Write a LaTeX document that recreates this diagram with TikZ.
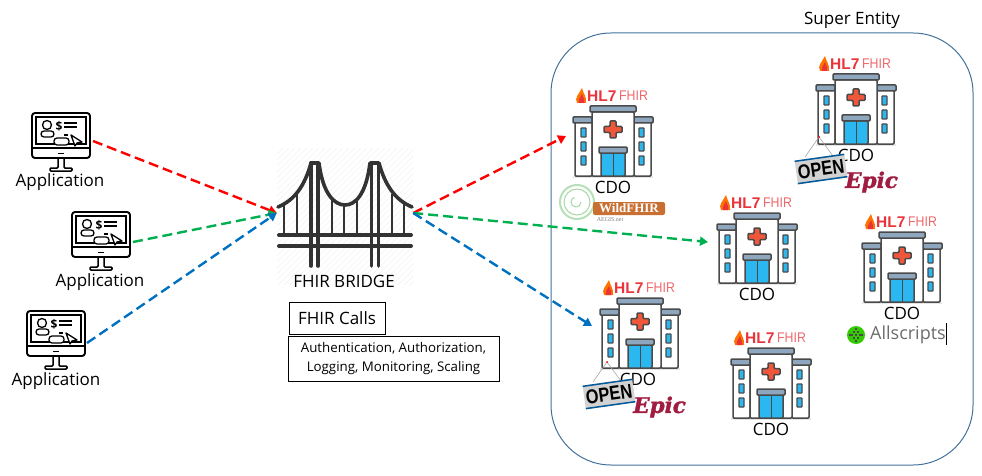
\documentclass[tikz,border=0pt]{standalone}
\usepackage{fontspec}
\setmainfont{Open Sans}
\newfontfamily\arialf{Liberation Sans}
\newfontfamily\timesf{Liberation Serif}
\newfontfamily\dejaf[FakeBold=1.6]{DejaVu Serif}
\usetikzlibrary{arrows.meta}
\definecolor{rouge}{HTML}{FF0000}
\definecolor{vert}{HTML}{00B050}
\definecolor{bleu}{HTML}{0070C0}
\definecolor{cadre}{HTML}{41719C}
\definecolor{sombre}{HTML}{4A4A4A}
\definecolor{toit}{HTML}{8FA6BF}
\definecolor{vitre}{HTML}{2BB8F0}
\definecolor{croix}{HTML}{F0573A}
\definecolor{hlrouge}{HTML}{E8343A}
\definecolor{epic}{HTML}{A01C40}
\definecolor{wild}{HTML}{C96F32}
\definecolor{pont}{HTML}{333333}
\newcommand{\tailleA}{\fontsize{17}{20}\selectfont}
\newcommand{\tailleB}{\fontsize{13.3}{19.5}\selectfont}
\tikzset{
titre/.style={inner sep=0pt,font=\tailleA},
boite/.style={draw,thick,inner sep=0pt,align=center},
bati/.style={draw=sombre,line width=1.5pt,rounded corners=1pt},
ecran/.pic={
  \draw[line width=1.9pt,rounded corners=3pt] (0,0) rectangle (58,45);
  \draw[line width=1.6pt] (0,35) -- (58,35);
  \draw[line width=1.3pt] (4,4) rectangle (54,31);
  \draw[line width=1.4pt] (26,40.5) -- (32,40.5);
  \draw[line width=1.5pt,rounded corners=1pt] (26,45) -- (26,55) -- (18,55) -- (18,58) -- (40,58) -- (40,55) -- (32,55) -- (32,45);
  \draw[line width=1.3pt] (15,12) circle (4.5);
  \draw[line width=1.3pt,rounded corners=3pt] (9,24) -- (9,18) -- (22,18) -- (22,24) -- cycle;
  \node[inner sep=0pt,font=\bfseries\fontsize{12}{12}\selectfont] (-dollar) at (27,13) {\$};
  \draw[line width=1.3pt] (32,10) -- (45,10) (32,14) -- (45,14) (32,22) -- (36,22);
  \draw[line width=1.3pt,fill=white,rounded corners=3pt] (22,25) rectangle (37,32);
  \draw[line width=1.3pt,fill=white,line join=round] (39,22) -- (50,29) -- (45,30) -- (43,33) -- cycle;
},
hopital/.pic={
  \fill[gray!20] (0,70) rectangle (80,72);
  \draw[bati,fill=white] (2,15) rectangle (19,70);
  \draw[bati,fill=white] (61,15) rectangle (78,70);
  \draw[bati,fill=toit] (0,11) rectangle (19,17);
  \draw[bati,fill=toit] (61,11) rectangle (80,17);
  \draw[bati,fill=white] (19,6) rectangle (61,70);
  \draw[bati,fill=toit] (17,0) rectangle (63,6);
  \foreach \fy in {22,36,50} {
    \draw[sombre,fill=vitre,line width=1.1pt,rounded corners=0.5pt] (8,\fy) rectangle (13,\fy+9);
    \draw[sombre,fill=vitre,line width=1.1pt,rounded corners=0.5pt] (66,\fy) rectangle (71,\fy+9);
  }
  \draw[bati,fill=croix] (37,15) -- (43,15) -- (43,20.5) -- (49,20.5) -- (49,26.5) -- (43,26.5) -- (43,32) -- (37,32) -- (37,26.5) -- (31,26.5) -- (31,20.5) -- (37,20.5) -- cycle;
  \draw[bati,fill=vitre] (28,47) rectangle (52,70);
  \draw[sombre,line width=1pt] (40,47) -- (40,70);
  \draw[bati,fill=toit] (26,41) rectangle (54,47);
  \fill[orange!90!red] (4,-3) .. controls (1,-8) and (6,-12) .. (9,-18) .. controls (10,-13) and (14,-9) .. (13,-3) -- cycle;
  \fill[hlrouge] (6,-3) .. controls (5,-7) and (8,-9) .. (9,-12) .. controls (10,-8) and (12,-7) .. (11,-3) -- cycle;
  \node[anchor=west,inner sep=0pt,text=hlrouge,font=\arialf\bfseries\fontsize{15.5}{15}\selectfont] (-hl) at (14,-10) {HL7};
  \node[anchor=west,inner sep=0pt,text=hlrouge!75,font=\arialf\fontsize{14}{14}\selectfont] (-fhir) at (46,-10) {\scalebox{0.88}[1]{FHIR}};
},
pancarte/.pic={
  \draw[gray!70,line width=0.6pt] (25,0) -- (11,20) (25,0) -- (39,19);
  \fill[rouge] (25,0) circle (1);
  \begin{scope}[rotate around={8:(27,32)}]
  \fill[gray!35] (2,20) rectangle (52,44);
  \fill[bleu!80!black] (2,20) rectangle (52,21.5);
  \fill[bleu!80!black] (2,42.5) rectangle (52,44);
  \node[inner sep=0pt,transform shape,font=\arialf\bfseries\fontsize{20}{20}\selectfont] (-open) at (27,32) {\scalebox{0.82}[1]{OPEN}};
  \end{scope}
  \node[anchor=west,inner sep=0pt,text=epic,font=\dejaf\bfseries\itshape\fontsize{21.5}{22}\selectfont] (-epic) at (51,45) {Epic};
}
}
\tikzstyle{lien}=[-{Stealth[length=8pt,width=9pt,inset=0pt]},dash pattern=on 10pt off 5pt,line width=2.4pt]
\begin{document}
\begin{tikzpicture}[x=1pt,y=-1pt]
\useasboundingbox (0,0) rectangle (982,476);

% applications
\pic (E1) at (32,113) {ecran};
\pic (E2) at (72,212) {ecran};
\pic (E3) at (27,311) {ecran};
\node[titre] (T1) at (60,182) {Application};
\node[titre] (T2) at (100,282) {Application};
\node[titre] (T3) at (56,381) {Application};

% pont
\begin{scope}
\clip (277,148) rectangle (413,285);
\foreach \fx in {0,6,...,280} {
  \draw[gray!10,line width=0.5pt] (277+\fx-137,285) -- (277+\fx,148);
}
\end{scope}
\begin{scope}[draw=pont,line width=3.6pt,line cap=round]
\draw (311,163) -- (311,266) (318,163) -- (318,266) (371.5,163) -- (371.5,266) (378.5,163) -- (378.5,266);
\draw (311,163) -- (318,163) (371,163) -- (378,163);
\draw (278,207) .. controls (295,200) and (305,185) .. (311,163);
\draw (319,163) .. controls (323,195) and (335,205) .. (345,205) .. controls (355,205) and (366,195) .. (370,163);
\draw (379,163) .. controls (385,185) and (395,200) .. (412,207);
\draw[line width=4pt] (279,235) -- (411,235) (279,246) -- (411,246);
\begin{scope}[line width=2.3pt,line cap=butt]
\draw (284,204) -- (284,235) (297,194) -- (297,235);
\draw (332,200) -- (332,235) (344,205) -- (344,235) (357,200) -- (357,235);
\draw (392,194) -- (392,235) (404,204) -- (404,235);
\end{scope}
\end{scope}
\node[minimum width=136pt,minimum height=130pt,inner sep=0pt] (B) at (345,213) {};
\node[titre] (B1) at (344,281) {FHIR BRIDGE};
\node[boite,minimum width=96pt,minimum height=32pt,font=\tailleA] (B2) at (337,318) {FHIR Calls};
\node[boite,minimum width=211pt,minimum height=45pt,font=\tailleB] (B3) at (393.5,358.5) {Authentication, Authorization,\\Logging, Monitoring, Scaling};

% super entity
\node[draw=cadre,line width=1pt,rounded corners=60pt,minimum width=422pt,minimum height=432pt,inner sep=0pt] (S) at (762,249) {};
\node[titre] (S1) at (852,20) {Super Entity};

% hopitaux
\pic (H1) at (573,106) {hopital};
\pic (H2) at (816,74) {hopital};
\pic (H3) at (717,213) {hopital};
\pic (H4) at (862,232) {hopital};
\pic (H5) at (600,298) {hopital};
\pic (H6) at (731,348) {hopital};
\node[titre] (C1) at (613,187) {CDO};
\node[titre] (C2) at (856,155) {CDO};
\node[titre] (C3) at (757,294) {CDO};
\node[titre] (C4) at (902,313) {CDO};
\node[titre] (C5) at (638,379) {CDO};
\node[titre] (C6) at (771,429) {CDO};

% logos
\pic (O1) at (582,362) {pancarte};
\pic (O2) at (794,137) {pancarte};
\draw[green!40!gray!40,fill=white,line width=2pt] (577,202) circle (17);
\draw[green!40!gray!50,line width=1pt] (577,202) circle (13) (581,202) arc (0:250:5);
\node[rounded corners=2pt,fill=wild,text=white,minimum width=72pt,minimum height=13pt,inner sep=0pt,font=\timesf\bfseries\fontsize{13}{13}\selectfont] (W1) at (629,208.5) {WildFHIR};
\node[inner sep=0pt,text=gray,font=\timesf\fontsize{6}{6}\selectfont] (W2) at (610,220) {AEGIS.net};
\fill[green!60!olive] (856,335) circle (9);
\foreach \fa/\fb in {-4/0,0/0,4/0,-2/-3,2/-3,-2/3,2/3,0/-6,0/6,-6/0,6/0} {
  \fill[sombre] (856+\fa-1,335+\fb-1) rectangle (856+\fa+1,335+\fb+1);
}
\node[anchor=west,inner sep=0pt,text=gray!85!black,font=\fontsize{18}{18}\selectfont] (W3) at (870,335) {Allscripts};
\draw[line width=0.7pt] (946,323) -- (946,345);

% liens
\coordinate (A1) at (93,141);
\coordinate (A2) at (133,242);
\coordinate (A3) at (87,343);
\coordinate (D1) at (566,136);
\coordinate (D2) at (708,242);
\coordinate (D3) at (592,326);
\draw[lien,rouge] (A1) -- (B.west);
\draw[lien,vert] (A2) -- (B.west);
\draw[lien,bleu] (A3) -- (B.west);
\draw[lien,rouge] (B.east) -- (D1);
\draw[lien,vert] (B.east) -- (D2);
\draw[lien,bleu] (B.east) -- (D3);
\end{tikzpicture}
\end{document}
